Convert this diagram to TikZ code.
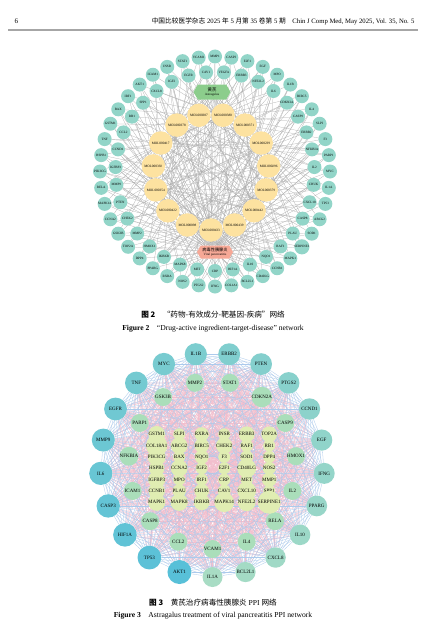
\documentclass[tikz,border=0pt]{standalone}
\usepackage{fontspec}
\setmainfont{Liberation Serif}
\newfontfamily\cjk{Noto Sans CJK SC}
\usetikzlibrary{shapes.symbols}
\pgfdeclarelayer{paper}
\pgfdeclarelayer{bg}
\pgfsetlayers{paper,bg,main}
\definecolor{tgtfill}{RGB}{146,213,200}
\definecolor{molfill}{RGB}{253,226,160}
\definecolor{herbfill}{RGB}{140,205,140}
\definecolor{disfill}{RGB}{246,168,150}
\definecolor{hubA}{RGB}{88,192,216}
\definecolor{hubB}{RGB}{168,220,196}
\definecolor{midfill}{RGB}{170,222,186}
\definecolor{corefill}{RGB}{224,237,178}
\definecolor{pinkedge}{RGB}{242,190,205}
\definecolor{blueedge}{RGB}{172,202,236}

\begin{document}
\begin{tikzpicture}[x=1pt,y=-1pt,
            target/.style={circle,fill=tgtfill,inner sep=0pt,minimum size=14pt,font=\fontsize{3.3}{3.5}\selectfont},
            compound/.style={circle,fill=molfill,inner sep=0pt,minimum size=23.5pt,font=\fontsize{3.4}{4}\selectfont},
            hexa/.style={signal,signal to=east and west,signal pointer angle=120,inner sep=0pt,align=center,font=\fontsize{3.3}{4.6}\selectfont},
            edge/.style={draw=gray!65,line width=0.22pt},
            hub/.style={circle,inner sep=0pt,font=\fontsize{5}{6}\selectfont},
            midnode/.style={circle,fill=midfill,inner sep=0pt,minimum size=18pt,font=\fontsize{5}{6}\selectfont},
            corenode/.style={circle,fill=corefill,inner sep=0pt,minimum size=12pt,font=\fontsize{5}{6}\selectfont},
            pinkline/.style={draw=pinkedge,line width=0.25pt},
            blueline/.style={draw=blueedge,line width=0.3pt},
            caption/.style={font=\fontsize{7.6}{9}\selectfont}]
            \begin{pgfonlayer}{paper}
            \fill[white] (0,0) rectangle (427,626);
            \end{pgfonlayer}
            \useasboundingbox (0,0) rectangle (427,626);
            % running head
            \node[anchor=base west,font=\fontsize{7}{8}\selectfont] (pageno) at (11,24) {6};
            \node[anchor=base east,font=\fontsize{6.7}{7}\selectfont] (runhead) at (418,24) {{\cjk 中国比较医学杂志} 2025 {\cjk 年} 5 {\cjk 月第} 35 {\cjk 卷第} 5 {\cjk 期}\quad Chin J Comp Med, May 2025, Vol. 35, No. 5};
            \draw[gray!70,line width=1.2pt] (8,30) -- (418,30);
            % figure 2
            \begin{scope}[shift={(215,171.5)}]
            \foreach \g [count=\i from 0] in {MMP1,CASP3,E2F1,EGF,MPO,IL1B,BIRC5,IL4,SLPI,F3,PARP1,MYC,IL1A,TP53,ABCG2,SOD1,SERPINE1,MAPK1,CCNB1,CD40LG,BCL2L1,COL1A1,IFNG,PTGS2,NOS2,RXRA,PPARG,DPP4,TOP2A,GSK3B,CCNA2,MAPK14,RELA,PIK3CG,HSPB1,TNF,GSTM1,BAX,IRF1,AKT1,ICAM1,INSR,STAT1,VCAM1}
                \node[target] (o\i) at ({270+\i*360/44}:115) {\g};
            \foreach \g [count=\i from 0] in {CRP,HIF1A,IL10,NQO1,RAF1,PLAU,CASP8,CXCL10,CHUK,IL2,NFKBIA,ERBB2,CASP9,CDKN2A,IL6,NFE2L2,ERBB3,VEGFA,CAV1,EGFR,IGF2,CXCL8,SPP1,RB1,CCL2,CCND1,IGFBP3,MMP9,PTEN,CHEK2,MMP2,HMOX1,IKBKB,MAPK8,MET}
                \node[target] (n\i) at ({90-\i*360/35}:99.5) {\g};
            \end{scope}
            \begin{scope}[shift={(211,172)}]
            \foreach \g [count=\i from 0] in {433,098,422,354,392,417,378,387,380,371,239,296,379,442,439}
                \node[compound] (m\i) at ({90+\i*24}:58) {MOL000\g};
            \end{scope}
            \node[hexa,fill=herbfill,minimum width=37pt,minimum height=15pt] (herb) at (212,92) {{\cjk\fontsize{4.4}{4.6}\selectfont 黄芪}\\Astragalus};
            \node[hexa,fill=disfill,minimum width=36pt,minimum height=13pt] (dis) at (215,252) {{\cjk\fontsize{4.2}{4.6}\selectfont 病毒性胰腺炎}\\Viral pancreatitis};
            \begin{pgfonlayer}{bg}
            \foreach \t in {0,...,43} \draw[edge] (dis) -- (o\t);
            \foreach \t in {0,...,34} \draw[edge] (dis) -- (n\t);
            \foreach \m in {0,...,14} {
                \draw[edge] (herb) -- (m\m);
                \foreach \t in {0,...,43} {
                    \pgfmathtruncatemacro\k{mod(\m*2+\t*3,5)}
                    \ifnum\k=0 \draw[edge] (m\m) -- (o\t);\fi
                }
                \foreach \t in {0,...,34} {
                    \pgfmathtruncatemacro\k{mod(\m*4+\t*3,5)}
                    \ifnum\k=0 \draw[edge] (m\m) -- (n\t);\fi
                }
            }
            \end{pgfonlayer}
            \node[caption] (cap2cn) at (213,315) {{\cjk\bfseries 图 2}\quad{\cjk “药物-有效成分-靶基因-疾病”网络}};
            \node[caption] (cap2en) at (213,329) {\textbf{Figure 2}\quad ``Drug-active ingredient-target-disease'' network};
            % figure 3
            \begin{scope}[shift={(212.5,465)}]
            \foreach \g [count=\i from 0] in {IL1A,AKT1,TP53,HIF1A,CASP3,IL6,MMP9,EGFR,TNF,MYC,IL1B,ERBB2,PTEN,PTGS2,CCND1,EGF,IFNG,PPARG,IL10,CXCL8,BCL2L1} {
                \pgfmathtruncatemacro\r{mod(\i+20,21)}
                \pgfmathtruncatemacro\p{100-\r*5}
                \node[hub,fill=hubA!\p!hubB,minimum size={24pt-\r*0.2pt}] (a\i) at ({90+\i*360/21}:112) {\g};
            }
            \foreach \g [count=\i from 0] in {VCAM1,CCL2,CASP8,ICAM1,NFKBIA,PARP1,GSK3B,MMP2,STAT1,CDKN2A,CASP9,HMOX1,IL2,RELA,IL4}
                \node[midnode] (b\i) at ({90+\i*24}:84) {\g};
            \end{scope}
            \foreach \g [count=\k from 0] in {GSTM1,SLPI,RXRA,INSR,ERBB3,TOP2A,COL18A1,ABCG2,BIRC5,CHEK2,RAF1,RB1,PIK3CG,BAX,NQO1,F3,SOD1,DPP4,HSPB1,CCNA2,IGF2,E2F1,CD40LG,NOS2,IGFBP3,MPO,IRF1,CRP,MET,MMP1,CCNB1,PLAU,CHUK,CAV1,CXCL10,SPP1,MAPK1,MAPK8,IKBKB,MAPK14,NFE2L2,SERPINE1} {
                \pgfmathtruncatemacro\col{mod(\k,6)}
                \pgfmathtruncatemacro\row{div(\k,6)}
                \node[corenode] (g\k) at ({156.7+\col*22.5},{434.3+\row*11.33}) {\g};
            }
            \begin{pgfonlayer}{bg}
            \foreach \i in {0,...,14} {
                \foreach \j in {0,...,20} \draw[pinkline] (b\i) -- (a\j);
                \foreach \j in {\i,...,14} {\ifnum\i<\j \draw[pinkline] (b\i) -- (b\j);\fi}
            }
            \foreach \k in {0,...,41} {
                \foreach \j in {0,...,20} {
                    \pgfmathtruncatemacro\q{mod(\k+\j,2)}
                    \ifnum\q=0 \draw[pinkline] (g\k) -- (a\j);\fi
                }
                \foreach \j in {0,...,14} {
                    \pgfmathtruncatemacro\q{mod(\k*2+\j,3)}
                    \ifnum\q=0 \draw[pinkline] (g\k) -- (b\j);\fi
                }
            }
            \foreach \i in {0,...,20} {
                \foreach \j in {\i,...,20} {\ifnum\i<\j \draw[blueline] (a\i) -- (a\j);\fi}
            }
            \end{pgfonlayer}
            \node[caption] (cap3cn) at (213,603) {{\cjk\bfseries 图 3}\quad{\cjk 黄芪治疗病毒性胰腺炎} PPI {\cjk 网络}};
            \node[caption] (cap3en) at (213,616) {\textbf{Figure 3}\quad Astragalus treatment of viral pancreatitis PPI network};
        \end{tikzpicture}
\end{document}
